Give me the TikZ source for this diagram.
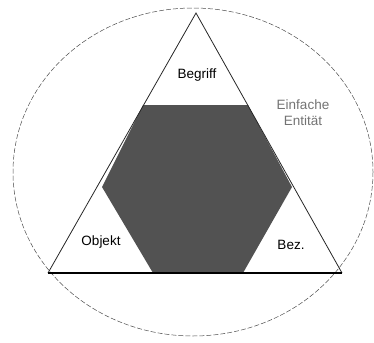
\documentclass[tikz,border=0pt]{standalone}
\usepackage{fontspec}
\setmainfont{Liberation Sans}
\usepackage{xcolor}
\usetikzlibrary{calc}

\begin{document}
\begin{tikzpicture}[x=1pt, y=-1pt]
  \tikzset{
    label/.style={font=\fontsize{13.5}{16}\selectfont, align=center, inner sep=1pt},
    side/.style={draw=black!85, line width=0.8pt}
  }
  \useasboundingbox (0,0) rectangle (374,342);
  % outer entity
  \draw[black!70, dashed, line width=0.5pt, dash pattern=on 5pt off 2pt]
    (193,172) ellipse [x radius=180, y radius=164];
  % triangle corners
  \coordinate (top)   at (196,13);
  \coordinate (left)  at (48,273);
  \coordinate (right) at (342,273);
  % hexagon
  \fill[black!68] (143,105) -- (248,105) -- (292,187) -- (243,273)
    -- (153,273) -- (102,187) -- cycle;
  \draw[side] (left) -- (top) -- (right);
  \draw[black, line width=1.3pt] (left) -- (right);
  % labels
  \node[label] (begriff) at (197,75) {Begriff};
  \node[label] (objekt)  at (101,242) {Objekt};
  \node[label] (bez)     at (291,245) {Bez.};
  \node[label, text=black!55] (entity) at (303,113) {Einfache\\Entit\"at};
\end{tikzpicture}
\end{document}
